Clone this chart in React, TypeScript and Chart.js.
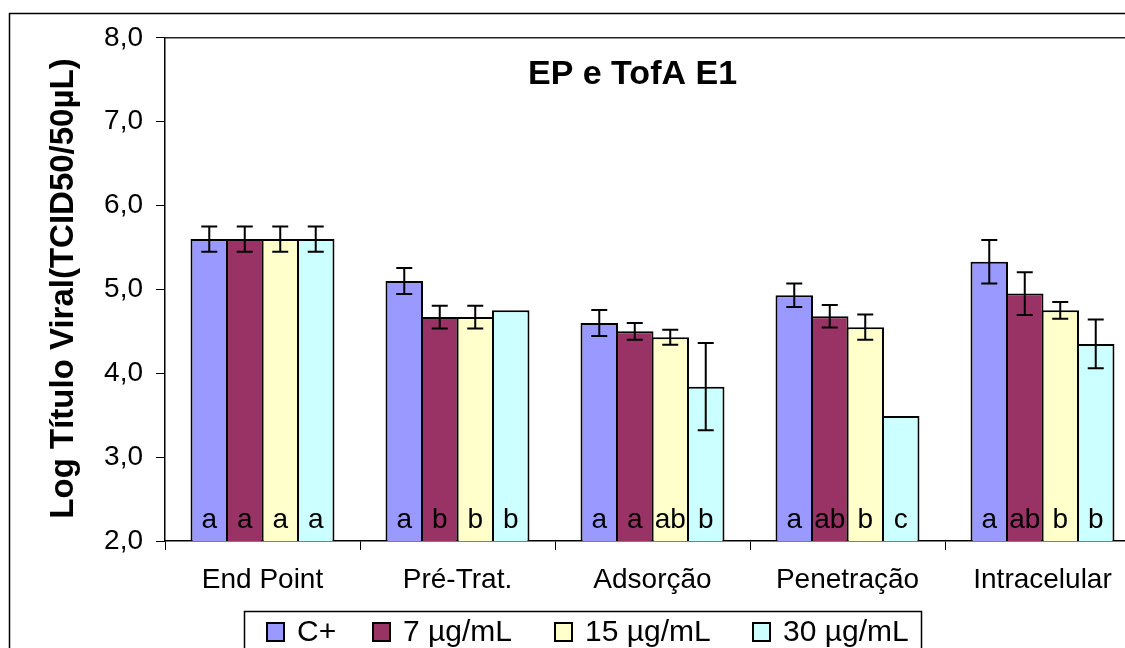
import React, { useEffect, useRef } from "react";
import { Chart, registerables } from "chart.js";

Chart.register(...registerables);

// ---- data ----
const categories = ["End Point", "Pré-Trat.", "Adsorção", "Penetração", "Intracelular"];
const seriesLabels = ["C+", "7 µg/mL", "15 µg/mL", "30 µg/mL"];
const seriesColors = ["#9999FF", "#993366", "#FFFFCC", "#CCFFFF"];

const valuesCPlus = [5.6, 5.1, 4.6, 4.93, 5.33];
const values7 = [5.6, 4.67, 4.5, 4.68, 4.95];
const values15 = [5.6, 4.67, 4.43, 4.55, 4.75];
const values30 = [5.6, 4.75, 3.84, 3.49, 4.35];

const errorsCPlus = [0.15, 0.155, 0.155, 0.14, 0.26];
const errors7 = [0.15, 0.135, 0.1, 0.135, 0.255];
const errors15 = [0.15, 0.135, 0.09, 0.15, 0.1];
const errors30 = [0.15, 0, 0.52, 0, 0.29];

const lettersCPlus = ["a", "a", "a", "a", "a"];
const letters7 = ["a", "b", "a", "ab", "ab"];
const letters15 = ["a", "b", "ab", "b", "b"];
const letters30 = ["a", "b", "b", "c", "b"];

const yMin = 2;
const yMax = 8;
const yStep = 1;

const chartTitle = "EP e TofA E1";
const yAxisTitle = "Log Título Viral(TCID50/50µL)";

// ---- layout (canvas coordinates) ----
const CANVAS_W = 1150;
const CANVAS_H = 660;
const AREA_TOP = 29;
const AREA_LEFT = 157;
const AREA_BOTTOM = 533;
const AREA_RIGHT = 1132;
const LEGEND_ITEM_X = [259, 365, 547, 745];
const FONT = "'Liberation Sans', Arial, sans-serif";

const allValues = [valuesCPlus, values7, values15, values30];
const allErrors = [errorsCPlus, errors7, errors15, errors30];
const allLetters = [lettersCPlus, letters7, letters15, letters30];

const fmt = (v: number) => v.toFixed(1).replace(".", ",");

const decorPlugin = {
  id: "decor",
  afterDatasetsDraw(chart: any) {
    const ctx = chart.ctx;
    const yScale = chart.scales.y;
    const area = chart.chartArea;
    ctx.save();
    // error bars
    ctx.strokeStyle = "#000";
    ctx.lineWidth = 2;
    allValues.forEach((vals, di) => {
      const meta = chart.getDatasetMeta(di);
      vals.forEach((v, i) => {
        const e = allErrors[di][i];
        if (!e) return;
        const x = meta.data[i].x;
        const yt = yScale.getPixelForValue(v + e);
        const yb = yScale.getPixelForValue(v - e);
        ctx.beginPath();
        ctx.moveTo(x, yt);
        ctx.lineTo(x, yb);
        ctx.moveTo(x - 8, yt);
        ctx.lineTo(x + 8, yt);
        ctx.moveTo(x - 8, yb);
        ctx.lineTo(x + 8, yb);
        ctx.stroke();
      });
    });
    // significance letters
    ctx.fillStyle = "#000";
    ctx.font = `28px ${FONT}`;
    ctx.textAlign = "center";
    ctx.textBaseline = "alphabetic";
    allLetters.forEach((lets, di) => {
      const meta = chart.getDatasetMeta(di);
      lets.forEach((t, i) => {
        ctx.fillText(t, meta.data[i].x, area.bottom - 13);
      });
    });
    ctx.restore();
  },
  afterDraw(chart: any) {
    const ctx = chart.ctx;
    const area = chart.chartArea;
    ctx.save();
    // outer frame
    ctx.strokeStyle = "#000";
    ctx.lineWidth = 1.5;
    ctx.strokeRect(1.5, 5.5, CANVAS_W + 20, CANVAS_H + 20);
    // plot area top border
    ctx.beginPath();
    ctx.lineWidth = 1.5;
    ctx.strokeStyle = "#222";
    ctx.moveTo(area.left, area.top);
    ctx.lineTo(CANVAS_W, area.top);
    ctx.stroke();
    // title
    ctx.fillStyle = "#000";
    ctx.font = `bold 34px ${FONT}`;
    ctx.textAlign = "center";
    ctx.textBaseline = "alphabetic";
    ctx.fillText(chartTitle, 624.5, 76);
    // y axis title
    ctx.save();
    ctx.translate(65, 280.5);
    ctx.rotate(-Math.PI / 2);
    ctx.font = `bold 33px ${FONT}`;
    ctx.textAlign = "center";
    ctx.textBaseline = "alphabetic";
    ctx.fillText(yAxisTitle, 0, 0);
    ctx.restore();
    // legend
    ctx.lineWidth = 1.5;
    ctx.strokeStyle = "#000";
    ctx.strokeRect(236.5, 603.5, 677, 80);
    ctx.font = `30px ${FONT}`;
    ctx.textAlign = "left";
    seriesLabels.forEach((lab, i) => {
      const x = LEGEND_ITEM_X[i];
      ctx.fillStyle = seriesColors[i];
      ctx.fillRect(x, 615, 17, 18);
      ctx.lineWidth = 2;
      ctx.strokeStyle = "#000";
      ctx.strokeRect(x, 615, 17, 18);
      ctx.fillStyle = "#000";
      ctx.fillText(lab, x + 30, 633);
    });
    ctx.restore();
  },
};

export default function App() {
  const ref = useRef<HTMLCanvasElement | null>(null);
  useEffect(() => {
    document.documentElement.style.overflow = "hidden";
    document.body.style.overflow = "hidden";
    if (!ref.current) return;
    const chart = new Chart(ref.current, {
      type: "bar",
      data: {
        labels: categories,
        datasets: allValues.map((vals, i) => ({
          label: seriesLabels[i],
          data: vals,
          backgroundColor: seriesColors[i],
          borderColor: "#000",
          borderWidth: 2,
          categoryPercentage: 0.728,
          barPercentage: 1.056,
        })),
      },
      options: {
        responsive: false,
        animation: false,
        layout: {
          padding: { left: 0, top: AREA_TOP, right: CANVAS_W - AREA_RIGHT, bottom: 0 },
        },
        plugins: {
          legend: { display: false },
          title: { display: false },
          tooltip: { enabled: false },
        },
        scales: {
          x: {
            offset: true,
            grid: {
              display: true,
              drawOnChartArea: false,
              drawTicks: true,
              tickLength: 9,
              color: "#000",
              lineWidth: 1,
            },
            border: { display: true, color: "#000", width: 1.5 },
            ticks: {
              color: "#000",
              font: { family: FONT, size: 28 },
              padding: 13,
              maxRotation: 0,
            },
            afterFit: (scale: any) => {
              scale.height = CANVAS_H - AREA_BOTTOM;
            },
          },
          y: {
            min: yMin,
            max: yMax,
            grid: {
              display: true,
              drawOnChartArea: false,
              drawTicks: true,
              tickLength: 9,
              color: "#000",
              lineWidth: 1,
            },
            border: { display: true, color: "#000", width: 1.5 },
            ticks: {
              stepSize: yStep,
              color: "#000",
              font: { family: FONT, size: 28 },
              padding: 13,
              callback: (v: any) => fmt(Number(v)),
            },
            afterFit: (scale: any) => {
              scale.width = AREA_LEFT;
            },
          },
        },
      },
      plugins: [decorPlugin],
    });
    return () => chart.destroy();
  }, []);
  return (
    <div
      style={{
        position: "fixed",
        left: 8,
        top: 8,
        width: 1117,
        height: 640,
        overflow: "hidden",
      }}
    >
      <canvas ref={ref} width={CANVAS_W} height={CANVAS_H} style={{ display: "block" }} />
    </div>
  );
}
